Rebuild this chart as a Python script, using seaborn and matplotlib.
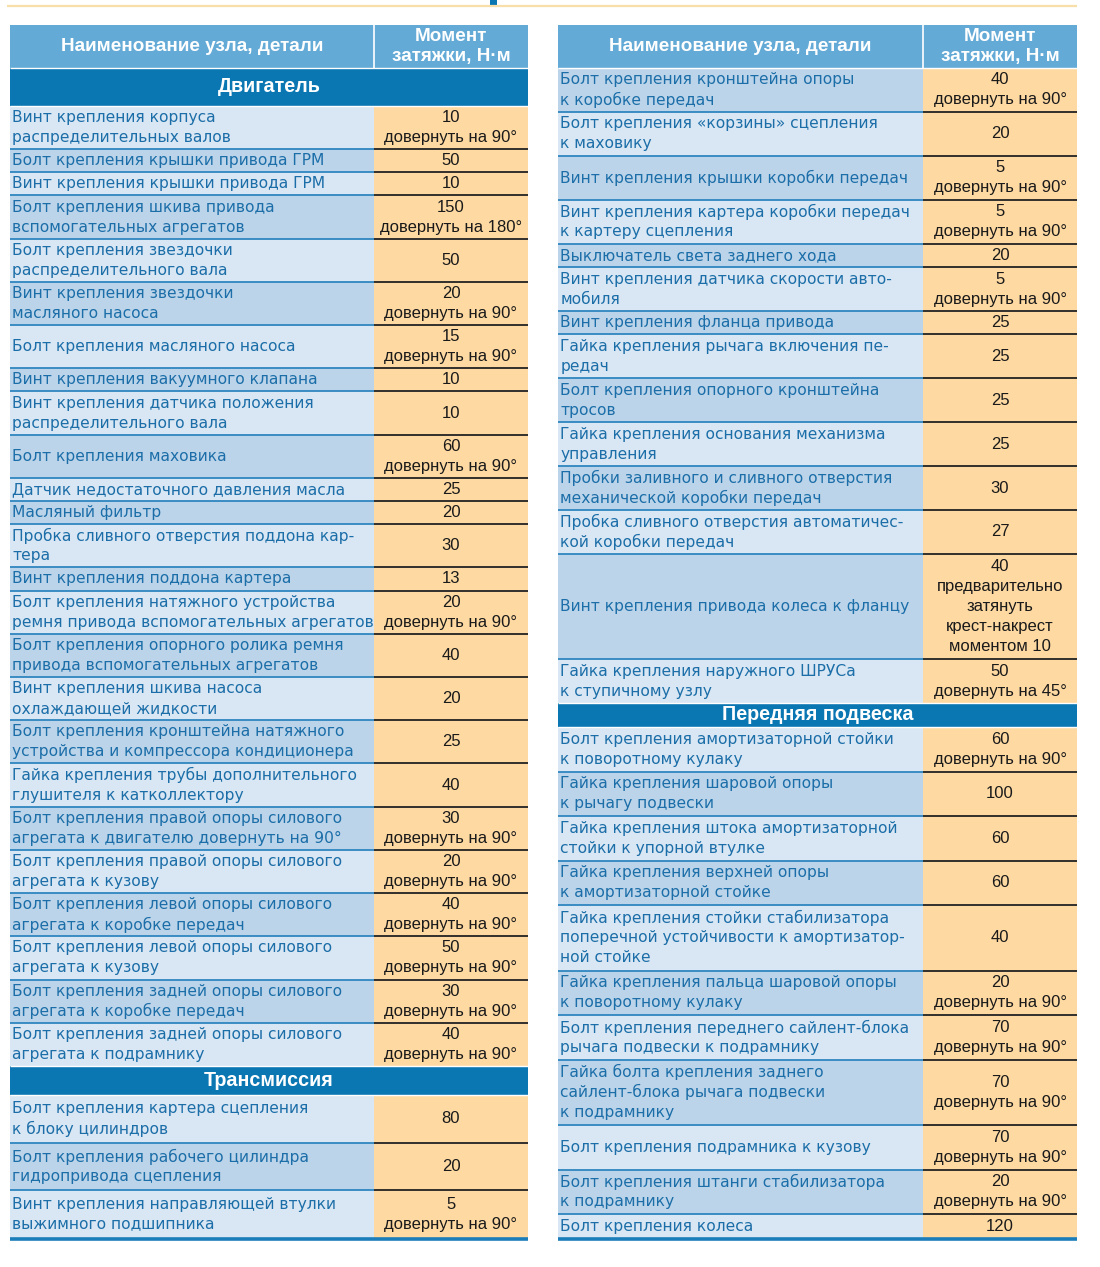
import matplotlib
matplotlib.use("Agg")
import matplotlib.pyplot as plt
import seaborn as sns

sns.set_theme(style="white")
plt.rcParams['font.family'] = ['DejaVu Sans']

# ---------------- data ----------------
header_name = "Наименование узла, детали"
header_value = ["Момент", "затяжки, Н·м"]

engine_title = "Двигатель"
engine_names = [
    "Винт крепления корпуса\nраспределительных валов",
    "Болт крепления крышки привода ГРМ",
    "Винт крепления крышки привода ГРМ",
    "Болт крепления шкива привода\nвспомогательных агрегатов",
    "Болт крепления звездочки\nраспределительного вала",
    "Винт крепления звездочки\nмасляного насоса",
    "Болт крепления масляного насоса",
    "Винт крепления вакуумного клапана",
    "Винт крепления датчика положения\nраспределительного вала",
    "Болт крепления маховика",
    "Датчик недостаточного давления масла",
    "Масляный фильтр",
    "Пробка сливного отверстия поддона кар-\nтера",
    "Винт крепления поддона картера",
    "Болт крепления натяжного устройства\nремня привода вспомогательных агрегатов",
    "Болт крепления опорного ролика ремня\nпривода вспомогательных агрегатов",
    "Винт крепления шкива насоса\nохлаждающей жидкости",
    "Болт крепления кронштейна натяжного\nустройства и компрессора кондиционера",
    "Гайка крепления трубы дополнительного\nглушителя к катколлектору",
    "Болт крепления правой опоры силового\nагрегата к двигателю довернуть на 90°",
    "Болт крепления правой опоры силового\nагрегата к кузову",
    "Болт крепления левой опоры силового\nагрегата к коробке передач",
    "Болт крепления левой опоры силового\nагрегата к кузову",
    "Болт крепления задней опоры силового\nагрегата к коробке передач",
    "Болт крепления задней опоры силового\nагрегата к подрамнику",
]
engine_torque = [10, 50, 10, 150, 50, 20, 15, 10, 10, 60, 25, 20, 30, 13, 20,
                 40, 20, 25, 40, 30, 20, 40, 50, 30, 40]
engine_notes = ["довернуть на 90°", "", "", "довернуть на 180°", "",
                "довернуть на 90°", "довернуть на 90°", "", "", "довернуть на 90°",
                "", "", "", "", "довернуть на 90°", "", "", "", "",
                "довернуть на 90°", "довернуть на 90°", "довернуть на 90°",
                "довернуть на 90°", "довернуть на 90°", "довернуть на 90°"]

trans_title = "Трансмиссия"
trans_names = [
    "Болт крепления картера сцепления\nк блоку цилиндров",
    "Болт крепления рабочего цилиндра\nгидропривода сцепления",
    "Винт крепления направляющей втулки\nвыжимного подшипника",
    "Болт крепления кронштейна опоры\nк коробке передач",
    "Болт крепления «корзины» сцепления\nк маховику",
    "Винт крепления крышки коробки передач",
    "Винт крепления картера коробки передач\nк картеру сцепления",
    "Выключатель света заднего хода",
    "Винт крепления датчика скорости авто-\nмобиля",
    "Винт крепления фланца привода",
    "Гайка крепления рычага включения пе-\nредач",
    "Болт крепления опорного кронштейна\nтросов",
    "Гайка крепления основания механизма\nуправления",
    "Пробки заливного и сливного отверстия\nмеханической коробки передач",
    "Пробка сливного отверстия автоматичес-\nкой коробки передач",
    "Винт крепления привода колеса к фланцу",
    "Гайка крепления наружного ШРУСа\nк ступичному узлу",
]
trans_torque = [80, 20, 5, 40, 20, 5, 5, 20, 5, 25, 25, 25, 25, 30, 27, 40, 50]
trans_notes = ["", "", "довернуть на 90°", "довернуть на 90°", "",
               "довернуть на 90°", "довернуть на 90°", "", "довернуть на 90°",
               "", "", "", "", "", "",
               "предварительно\nзатянуть\nкрест-накрест\nмоментом 10",
               "довернуть на 45°"]
trans_rows_left = 3   # rows of the section printed in the left column

susp_title = "Передняя подвеска"
susp_names = [
    "Болт крепления амортизаторной стойки\nк поворотному кулаку",
    "Гайка крепления шаровой опоры\nк рычагу подвески",
    "Гайка крепления штока амортизаторной\nстойки к упорной втулке",
    "Гайка крепления верхней опоры\nк амортизаторной стойке",
    "Гайка крепления стойки стабилизатора\nпоперечной устойчивости к амортизатор-\nной стойке",
    "Гайка крепления пальца шаровой опоры\nк поворотному кулаку",
    "Болт крепления переднего сайлент-блока\nрычага подвески к подрамнику",
    "Гайка болта крепления заднего\nсайлент-блока рычага подвески\nк подрамнику",
    "Болт крепления подрамника к кузову",
    "Болт крепления штанги стабилизатора\nк подрамнику",
    "Болт крепления колеса",
]
susp_torque = [60, 100, 60, 60, 40, 20, 70, 70, 70, 20, 120]
susp_notes = ["довернуть на 90°", "", "", "", "", "довернуть на 90°",
              "довернуть на 90°", "довернуть на 90°", "довернуть на 90°",
              "довернуть на 90°", ""]

# ---------------- style ----------------
C_HEAD = "#64aad6"
C_SECT = "#0a77b3"
C_LIGHT = "#d9e6f3"
C_DARK = "#bcd4ea"
C_VAL = "#fed9a2"
C_NAME_TXT = "#1b6ea8"
C_VAL_TXT = "#1a1a1a"
C_SEP_NAME = "#2f86bf"
C_SEP_VAL = "#222222"
C_BOTTOM = "#1b7db9"
NAME_FONT = ['DejaVu Sans']
VAL_FONT = ['Liberation Sans', 'DejaVu Sans']
HEAD_FONT = ['Liberation Sans', 'DejaVu Sans']
PITCH = 20.0

W, H = 1100, 1267
fig = plt.figure(figsize=(W / 100, H / 100), dpi=100)
ax = fig.add_axes([0, 0, 1, 1])
ax.set_xlim(0, W)
ax.set_ylim(H, 0)
ax.axis('off')

# top decoration (cut-off page title)
ax.hlines(6.3, 7, 1077, color="#f8dea9", lw=1.6)
ax.barh(2, 7, height=5, left=490, color=C_SECT, lw=0)

TOP_HEAD, BOT_HEAD = 25, 68
BOTTOM = 1238


def nlines(s):
    return s.count("\n") + 1 if s else 0


def cell(x0, x1, y0, y1, color):
    ax.barh((y0 + y1) / 2, x1 - x0, height=y1 - y0, left=x0, color=color, lw=0)


def lines_text(x, yc, lines, **kw):
    n = len(lines)
    for i, ln in enumerate(lines):
        ax.text(x, yc + (i - (n - 1) / 2) * PITCH, ln, va='center', **kw)


def draw_rows(x0, xd, x1, y0, y1, names, torque, notes, parity):
    vals = [(str(t) + ("\n" + n if n else "")) for t, n in zip(torque, notes)]
    counts = [max(nlines(a), nlines(b)) for a, b in zip(names, vals)]
    base = [3 + 20 * c for c in counts]
    s = (y1 - y0) / sum(base)
    y = y0
    for i, (nm, vl, b) in enumerate(zip(names, vals, base)):
        h = b * s
        light = (i + parity) % 2 == 0
        cell(x0, xd, y, y + h, C_LIGHT if light else C_DARK)
        cell(xd, x1, y, y + h, C_VAL)
        yc = y + h / 2
        lines_text(x0 + 2.5, yc, nm.split("\n"), ha='left', color=C_NAME_TXT,
                   fontsize=11.15, family=NAME_FONT)
        lines_text((xd + x1) / 2, yc, vl.split("\n"), ha='center', color=C_VAL_TXT,
                   fontsize=12, family=VAL_FONT)
        if i > 0:
            ax.hlines(y, x0, xd, color=C_SEP_NAME, lw=1.3)
            ax.hlines(y, xd, x1, color=C_SEP_VAL, lw=1.3)
        y += h


def draw_section(x0, x1, y0, y1, title):
    cell(x0, x1, y0, y1, C_SECT)
    ax.text((x0 + x1) / 2, (y0 + y1) / 2, title, ha='center', va='center',
            color='white', fontsize=14.2, fontweight='bold', family=HEAD_FONT)


def draw_header(x0, xd, x1):
    cell(x0, x1, TOP_HEAD, BOT_HEAD, C_HEAD)
    ax.vlines(xd, TOP_HEAD, BOT_HEAD, color='white', lw=1.2)
    ax.text((x0 + xd) / 2, (TOP_HEAD + BOT_HEAD) / 2, header_name, ha='center',
            va='center', color='white', fontsize=13.6, fontweight='bold',
            family=HEAD_FONT)
    lines_text((xd + x1) / 2, (TOP_HEAD + BOT_HEAD) / 2, header_value,
               ha='center', color='white', fontsize=13.6, fontweight='bold',
               family=HEAD_FONT)


# ---------- left table ----------
L0, LD, L1 = 10, 374, 528
draw_header(L0, LD, L1)
draw_section(L0, L1, 68, 106, engine_title)
draw_rows(L0, LD, L1, 106, 1066, engine_names, engine_torque, engine_notes, 0)
draw_section(L0, L1, 1066, 1095, trans_title)
k = trans_rows_left
draw_rows(L0, LD, L1, 1095, BOTTOM, trans_names[:k], trans_torque[:k],
          trans_notes[:k], 0)
ax.hlines([68, 106, 1066, 1095], L0, L1, color='white', lw=1.0)
ax.hlines(BOTTOM + 1, L0, L1, color=C_BOTTOM, lw=2.6)

# ---------- right table ----------
R0, RD, R1 = 558, 923, 1077
draw_header(R0, RD, R1)
draw_rows(R0, RD, R1, 68, 703, trans_names[k:], trans_torque[k:],
          trans_notes[k:], k % 2)
draw_section(R0, R1, 703, 727, susp_title)
draw_rows(R0, RD, R1, 727, BOTTOM, susp_names, susp_torque, susp_notes, 0)
ax.hlines([68, 703, 727], R0, R1, color='white', lw=1.0)
ax.hlines(BOTTOM + 1, R0, R1, color=C_BOTTOM, lw=2.6)

fig.savefig("out.png", dpi=100, facecolor='white')
